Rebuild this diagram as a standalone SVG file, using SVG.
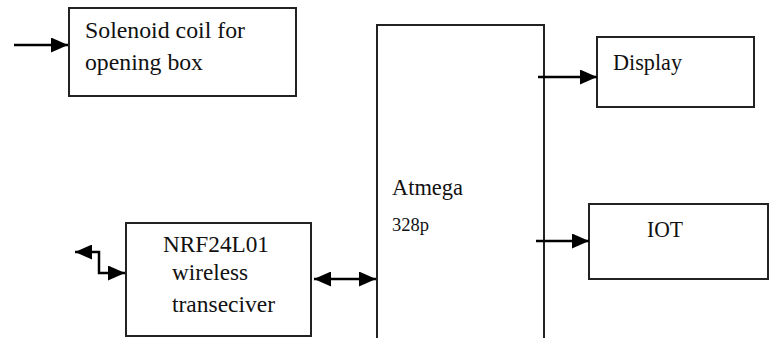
<svg xmlns="http://www.w3.org/2000/svg" width="778" height="338" viewBox="0 0 778 338">
<style>
.box{fill:#fff;stroke:#222;stroke-width:2}
.lbl{font-family:"Liberation Serif","Times New Roman",Times,serif;font-size:23px;fill:#111}
.con{fill:none;stroke:#000;stroke-width:2.5}
</style>
<defs>
<marker id="ah" markerUnits="userSpaceOnUse" markerWidth="17" markerHeight="15" refX="17" refY="7.5" orient="auto-start-reverse" viewBox="0 0 17 15">
<path d="M0,0 L17,7.5 L0,15 z" fill="#000"/>
</marker>
</defs>
<rect width="778" height="338" fill="#fff"/>
<g id="solenoid">
<rect class="box" x="69" y="8" width="227" height="88"/>
<text class="lbl" x="85" y="38" textLength="160" lengthAdjust="spacingAndGlyphs">Solenoid coil for</text>
<text class="lbl" x="85" y="70" textLength="118" lengthAdjust="spacingAndGlyphs">opening box</text>
</g>
<g id="atmega">
<path class="box" d="M377,340 V25 H544 V340"/>
<text class="lbl" x="392" y="195" textLength="71" lengthAdjust="spacingAndGlyphs">Atmega</text>
<text class="lbl" x="392" y="231" style="font-size:18px" textLength="37" lengthAdjust="spacingAndGlyphs">328p</text>
</g>
<g id="display">
<rect class="box" x="597" y="37" width="157" height="70"/>
<text class="lbl" x="613" y="70" textLength="69" lengthAdjust="spacingAndGlyphs">Display</text>
</g>
<g id="iot">
<rect class="box" x="589" y="204" width="179" height="75"/>
<text class="lbl" x="647" y="237" textLength="36" lengthAdjust="spacingAndGlyphs">IOT</text>
</g>
<g id="nrf">
<rect class="box" x="126" y="223" width="185" height="113"/>
<text class="lbl" x="163" y="252" textLength="106" lengthAdjust="spacingAndGlyphs">NRF24L01</text>
<text class="lbl" x="172" y="280" textLength="76" lengthAdjust="spacingAndGlyphs">wireless</text>
<text class="lbl" x="172" y="312" textLength="103" lengthAdjust="spacingAndGlyphs">transeciver</text>
</g>
<g id="connectors">
<path class="con" d="M14,45 H68" marker-end="url(#ah)"/>
<path class="con" d="M538,77 H597" marker-end="url(#ah)"/>
<path class="con" d="M536,241 H589" marker-end="url(#ah)"/>
<path class="con" d="M314,279 H376" marker-start="url(#ah)" marker-end="url(#ah)"/>
<path class="con" d="M75,252 H99 V273 H125" marker-start="url(#ah)" marker-end="url(#ah)"/>
</g>
</svg>
